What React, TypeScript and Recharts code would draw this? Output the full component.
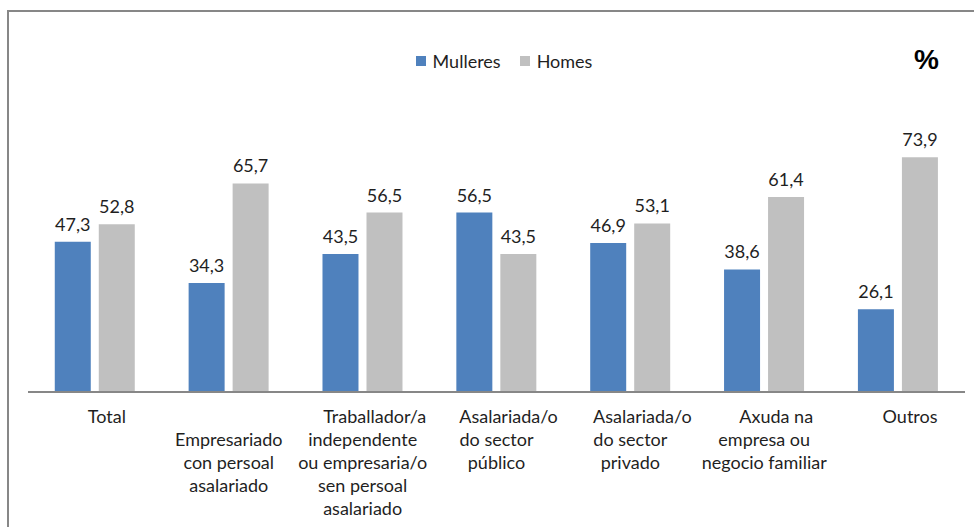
import { BarChart, Bar, XAxis, YAxis, LabelList } from "recharts";

const categories = [
  ["Total"],
  ["", "Empresariado", "con persoal", "asalariado"],
  ["Traballador/a", "independente", "ou empresaria/o", "sen persoal", "asalariado"],
  ["Asalariada/o", "do sector", "público"],
  ["Asalariada/o", "do sector", "privado"],
  ["Axuda na", "empresa ou", "negocio familiar"],
  ["Outros"],
];
const mulleres = [47.3, 34.3, 43.5, 56.5, 46.9, 38.6, 26.1];
const homes = [52.8, 65.7, 56.5, 43.5, 53.1, 61.4, 73.9];
const seriesNames = ["Mulleres", "Homes"];
const seriesColors = ["#4F81BD", "#C0C0C0"];

const data = categories.map((lines, i) => ({
  key: String(i),
  lines,
  mulleres: mulleres[i],
  homes: homes[i],
}));

const font = "Lato, 'Open Sans', sans-serif";
const textColor = "#1f1f1f";

function CategoryTick(props: any) {
  const { x, y, payload } = props;
  const lines: string[] = categories[Number(payload.value)];
  return (
    <g>
      {lines.map((line, j) => (
        <text
          key={j}
          x={x + (j === 0 ? 12 : 0)}
          y={y + 23 + j * 23}
          textAnchor="middle"
          fontFamily={font}
          fontSize={18}
          fill={textColor}
        >
          {line}
        </text>
      ))}
    </g>
  );
}

const fmt = (v: any) => String(v).replace(".", ",");

export default function App() {
  return (
    <div style={{ position: "absolute", left: 0, top: 0, width: 974, height: 527, background: "#fff", overflow: "hidden" }}>
      <div
        style={{
          position: "absolute",
          left: 7,
          top: 10,
          width: 980,
          height: 600,
          border: "2px solid #878787",
          boxSizing: "border-box",
        }}
      />
      <div
        style={{
          position: "absolute",
          left: 0,
          top: 50,
          width: 974,
          display: "flex",
          justifyContent: "center",
          fontFamily: font,
          fontSize: 18,
          color: textColor,
          lineHeight: "22px",
          paddingLeft: 34,
          boxSizing: "border-box",
        }}
      >
        {seriesNames.map((n, i) => (
          <div key={n} style={{ display: "flex", alignItems: "center", marginRight: i === 0 ? 19 : 0 }}>
            <span style={{ display: "inline-block", width: 10, height: 10, background: seriesColors[i], marginRight: 7 }} />
            {n}
          </div>
        ))}
      </div>
      <div
        style={{
          position: "absolute",
          left: 914,
          top: 44,
          fontFamily: "'Liberation Sans', Arial, sans-serif",
          fontWeight: "bold",
          fontSize: 28,
          color: "#000",
        }}
      >
        %
      </div>
      <BarChart
        width={974}
        height={527}
        data={data}
        margin={{ top: 138, right: 9, bottom: 0, left: 28 }}
        barGap={8}
        barCategoryGap="20%"
        style={{ position: "absolute", left: 0, top: 0 }}
      >
        <XAxis
          dataKey="key"
          tickLine={false}
          axisLine={{ stroke: "#878787", strokeWidth: 2 }}
          tick={<CategoryTick />}
          interval={0}
          height={135}
        />
        <YAxis hide domain={[0, 80]} width={0} />
        <Bar dataKey="mulleres" name={seriesNames[0]} fill={seriesColors[0]} isAnimationActive={false}>
          <LabelList dataKey="mulleres" position="top" offset={11} formatter={fmt} fontFamily={font} fontSize={18} fill={textColor} />
        </Bar>
        <Bar dataKey="homes" name={seriesNames[1]} fill={seriesColors[1]} isAnimationActive={false}>
          <LabelList dataKey="homes" position="top" offset={11} formatter={fmt} fontFamily={font} fontSize={18} fill={textColor} />
        </Bar>
      </BarChart>
    </div>
  );
}
